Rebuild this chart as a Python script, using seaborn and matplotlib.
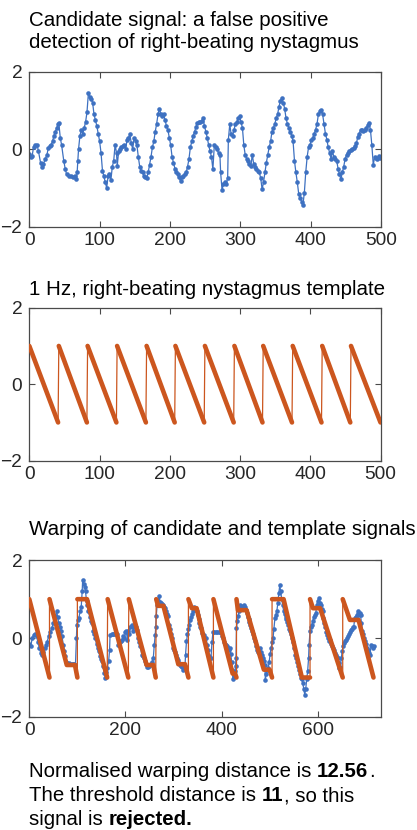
import numpy as np
import pandas as pd
import matplotlib
matplotlib.use("Agg")
import matplotlib.pyplot as plt
import seaborn as sns

# ---------------- data ----------------
cand_x = [0, 2, 4, 6, 8, 11, 13, 16, 18, 20, 23, 25, 27, 29, 31, 33, 35, 37, 39, 41, 42, 44, 46, 49, 51, 53,
          56, 59, 62, 65, 67, 68, 69, 70, 72, 74, 76, 78, 80, 82, 84, 86, 88, 90, 92, 94, 96, 98, 100, 102,
          104, 106, 108, 110, 112, 114, 116, 118, 120, 122, 124, 125, 127, 129, 131, 133, 135, 137, 139, 141,
          143, 145, 147, 149, 151, 153, 155, 157, 159, 161, 163, 165, 167, 169, 171, 173, 175, 177, 179, 181,
          183, 185, 187, 189, 191, 193, 195, 197, 199, 201, 203, 205, 207, 209, 211, 213, 215, 217, 219, 221,
          223, 225, 227, 229, 231, 233, 235, 237, 239, 241, 243, 245, 247, 249, 251, 253, 255, 257, 259, 261,
          263, 265, 267, 269, 271, 272, 274, 276, 278, 280, 282, 283, 285, 287, 289, 291, 293, 295, 297, 299,
          301, 303, 305, 307, 309, 311, 313, 315, 317, 319, 321, 323, 325, 327, 329, 331, 333, 335, 337, 339,
          341, 343, 345, 347, 349, 351, 353, 355, 357, 359, 361, 363, 365, 367, 369, 371, 373, 375, 377, 379,
          381, 383, 385, 387, 389, 391, 393, 395, 397, 399, 401, 403, 405, 407, 409, 411, 413, 415, 417, 419,
          421, 423, 425, 427, 429, 431, 433, 435, 437, 439, 441, 443, 445, 447, 449, 451, 453, 455, 457, 459,
          461, 463, 465, 467, 469, 471, 473, 475, 477, 479, 481, 483, 485, 487, 489, 491, 493, 495, 497, 499, 500]
cand_y = [-0.12, -0.2, -0.18, 0.05, 0.1, 0.12, -0.05, -0.35, -0.47, -0.38, -0.25, -0.15, 0.03, 0.08, 0.12,
          0.2, 0.35, 0.45, 0.55, 0.65, 0.67, 0.3, 0.1, -0.3, -0.5, -0.65,
          -0.7, -0.7, -0.72, -0.7, -0.78, -0.6, -0.3, 0.0, 0.35, 0.5, 0.4, 0.55, 0.7, 0.95, 1.45, 1.35, 1.3,
          1.2, 0.9, 0.75, 0.6, 0.4, 0.2, -0.1,
          -0.55, -0.7, -0.85, -1.0, -0.7, -0.65, -0.8, -0.45, -0.3, 0.12, -0.1, -0.44, -0.05, 0.0, 0.05, 0.08,
          0.12, 0.0, 0.25, 0.3,
          0.38, 0.15, 0.0, 0.3, 0.2, 0.1, -0.2, -0.45, -0.55, -0.6, -0.7, -0.72, -0.74, -0.6, -0.4, -0.2, 0.05,
          0.2, 0.45, 0.65,
          0.9, 1.05, 0.9, 0.85, 0.9, 0.75, 0.6, 0.5, 0.3, 0.1, -0.2, -0.35, -0.5, -0.6, -0.65, -0.72, -0.83,
          -0.72, -0.68, -0.65,
          -0.6, -0.45, -0.25, 0.05, 0.2, 0.35, 0.45, 0.58, 0.68, 0.7, 0.7, 0.72, 0.8, 0.6, 0.45, 0.3, 0.1,
          -0.05, -0.2, -0.52,
          0.1, 0.05, 0.0, -0.1, -0.15, -0.6, -1.05, -0.9, -0.85, -0.9, -0.74, 0.25, 0.64, 0.38, 0.35, 0.5,
          0.65, 0.7, 0.8, 0.85,
          0.7, 0.55, 0.1, -0.15, -0.25, -0.3, -0.38, -0.44, -0.14, -0.38, -0.45, -0.5, -0.55, -0.6, -0.75,
          -1.04, -0.85, -0.6, -0.35, -0.15,
          0.05, 0.2, 0.45, 0.55, 0.65, 0.8, 0.9, 1.1, 1.25, 1.33, 1.2, 1.05, 0.8, 0.65, 0.55, 0.45, 0.35, 0.2,
          -0.3, -0.6,
          -0.85, -1.15, -1.25, -1.35, -1.43, -1.13, -0.6, -0.2, 0.05, 0.1, 0.25, 0.28, 0.4, 0.5, 0.65, 0.9,
          0.98, 1.0, 0.9, 0.65,
          0.4, 0.25, 0.05, -0.1, -0.25, -0.05, -0.2, -0.25, -0.3, -0.5, -0.65, -0.78, -0.6, -0.45, -0.25,
          -0.15, -0.1, -0.05, -0.03, 0.0,
          0.02, 0.08, 0.15, 0.32, 0.4, 0.5, 0.5, 0.48, 0.5, 0.55, 0.62, 0.68, 0.5, 0.1, -0.4, -0.2, -0.22,
          -0.25, -0.18, -0.22, -0.2]

# 1 Hz sawtooth template: tooth tops (value 1) and bottoms (value -1)
tmpl_top_x = [0, 42, 83, 125, 167, 208, 250, 292, 333, 375, 417, 458]
tmpl_bottom_x = [41, 82, 124, 166, 207, 249, 291, 332, 374, 416, 457, 500]
tmpl_top_y = 1.0
tmpl_bottom_y = -1.0

# warped candidate
warp_cand_x = [0, 3, 6, 9, 12, 15, 18, 21, 24, 26, 29, 32, 35, 37, 40, 43, 47, 50, 54, 57, 59, 61, 64, 66,
               68, 71, 73, 75, 77, 79, 82, 85, 88, 91, 94, 96, 98, 99, 101, 103, 106, 108, 110, 111, 113,
               115, 117, 119, 121, 123, 126, 128, 130, 133, 135, 137, 140, 142, 144, 147, 149, 151, 153,
               156, 158, 160, 162, 165, 167, 168, 171, 174, 177, 180, 183, 185, 188, 190, 192, 195, 198,
               200, 202, 204, 206, 208, 210, 213, 216, 218, 220, 223, 225, 227, 229, 231, 234, 236, 238,
               240, 243, 245, 247, 250, 252, 254, 256, 258, 260, 262, 263, 264, 266, 268, 270, 272, 274,
               276, 278, 280, 282, 284, 286, 288, 290, 292, 294, 296, 299, 302, 304, 306, 308, 310, 312,
               314, 316, 318, 320, 322, 324, 325, 327, 329, 331, 333, 335, 337, 339, 341, 343, 345, 348,
               350, 352, 354, 356, 358, 360, 363, 366, 368, 370, 372, 374, 376, 378, 380, 382, 385, 388,
               391, 394, 397, 399, 401, 403, 405, 407, 409, 411, 413, 415, 417, 419, 421, 422, 424, 426,
               428, 429, 430, 431, 433, 435, 436, 438, 440, 442, 444, 446, 448, 450, 452, 454, 456, 458,
               460, 462, 464, 466, 468, 470, 472, 474, 476, 478, 480, 482, 484, 486, 488, 490, 491, 493,
               495, 497, 499, 501, 503, 505, 507, 509, 511, 513, 515, 517, 519, 521, 523, 525, 527, 529,
               531, 533, 535, 537, 539, 541, 543, 545, 547, 549, 551, 553, 555, 557, 559, 561, 563, 565,
               567, 569, 571, 573, 575, 577, 579, 581, 582, 584, 586, 588, 590, 592, 594, 596, 598, 600,
               602, 604, 606, 608, 610, 612, 614, 616, 618, 620, 622, 624, 626, 628, 630, 632, 634, 636,
               638, 640, 642, 644, 645, 647, 649, 651, 653, 655, 657, 659, 661, 663, 665, 667, 669, 671,
               673, 675, 677, 679, 681, 683, 685, 687, 689, 691, 693, 695, 697, 699, 701, 703, 705, 707,
               709, 711, 713, 715, 717]
warp_cand_y = [-0.15, -0.2, 0.0, 0.08, 0.11, 0.05, -0.1, -0.25, -0.38, -0.42, -0.35, -0.25, -0.18, -0.1,
               0.05, 0.15, 0.26, 0.4, 0.56, 0.69, 0.55, 0.4, 0.3, 0.2,
               0.05, -0.16, -0.33, -0.45, -0.6, -0.62, -0.64, -0.65, -0.65, -0.66, -0.65, -0.68, 0.0, 0.35,
               0.48, 0.52, 0.7, 0.8, 1.2, 1.5, 1.4,
               1.3, 1.2, 0.95, 0.85, 0.69, 0.55, 0.45, 0.39, 0.2, 0.1, 0.0, -0.15, -0.25, -0.33, -0.45, -0.52,
               -0.59, -0.7,
               -0.89, -1.0, -0.85, -0.76, -0.59, -0.3, 0.09, 0.1, 0.1, 0.1, 0.1, 0.1, -0.16, -0.1, -0.08,
               -0.05, 0.05, 0.0,
               0.15, 0.18, -0.05, 0.2, 0.1, 0.3, 0.35, 0.2, 0.3, 0.35, 0.3, 0.22, 0.0, -0.1, -0.2, -0.42,
               -0.45, -0.5,
               -0.59, -0.65, -0.72, -0.72, -0.7, -0.68, -0.66, -0.6, -0.5, -0.16, 0.09, 0.3, 0.56, 0.86,
               0.95, 1.07, 0.94, 0.9,
               0.88, 0.85, 0.8, 0.77, 0.7, 0.62, 0.56, 0.35, 0.25, 0.1, 0.0, -0.25, -0.3, -0.35, -0.42, -0.5,
               -0.55, -0.62,
               -0.67, -0.7, -0.72, -0.8, -0.76, -0.7, -0.42, -0.08, 0.1, 0.25, 0.35, 0.48, 0.55, 0.62, 0.69,
               0.8, 0.75, 0.7,
               0.6, 0.5, 0.4, 0.3, 0.26, 0.13, 0.08, 0.02, 0.0, -0.16, -0.3, -0.45, -0.5, -0.5, -0.1, 0.16,
               0.16, 0.16,
               0.16, 0.16, 0.16, 0.16, 0.05, 0.0, -0.1, -0.14, -0.16, -0.2, -0.25, -0.29, -0.25, -0.4, -0.6,
               -0.8, -1.05, -0.95,
               -0.84, -0.7, -0.5, 0.26, 0.45, 0.56, 0.7, 0.86, 0.8, 0.75, 0.82, 0.85, 0.8, 0.72, 0.65, 0.55,
               0.5, 0.42,
               0.35, 0.26, 0.18, 0.1, 0.0, -0.08, -0.2, -0.3, -0.35, -0.38, -0.25, -0.35, -0.42, -0.5, -0.58,
               -0.67, -1.06, -0.9,
               -0.8, -0.76, -0.6, -0.4, -0.25, -0.1, 0.0, 0.25, 0.52, 0.6, 0.7, 0.9, 1.15, 1.35, 1.2, 1.0,
               0.86, 0.7,
               0.62, 0.55, 0.5, 0.43, 0.35, 0.25, 0.18, 0.1, 0.0, -0.1, -0.25, -0.42, -0.5, -0.6, -0.7, -0.8,
               -0.9, -1.0,
               -1.05, -1.15, -1.3, -1.44, -1.3, -1.05, -0.84, -0.5, -0.16, 0.18, 0.3, 0.35, 0.45, 0.55, 0.6,
               0.65, 0.86, 0.95,
               1.02, 0.9, 0.86, 0.75, 0.69, 0.52, 0.4, 0.3, 0.15, 0.09, 0.0, -0.08, -0.04, -0.15, -0.2,
               -0.25, -0.3, -0.38,
               -0.42, -0.48, -0.5, -0.62, -0.75, -0.72, -0.5, -0.33, -0.2, -0.12, -0.06, -0.03, 0.0, 0.05,
               0.1, 0.15, 0.22, 0.25,
               0.28, 0.3, 0.52, 0.55, 0.6, 0.69, 0.6, 0.65, 0.6, 0.4, 0.18, 0.1, 0.0, -0.08, -0.15, -0.25,
               -0.3, -0.38,
               -0.42, -0.16, -0.2, -0.25, -0.2]

# warped template: corner points of the path
warp_tmpl_x = [0, 42, 42, 78, 95, 100, 100, 120, 162, 163, 206, 207, 244, 258, 263, 264, 268, 279, 310, 324,
               331, 331, 338, 348, 383, 383, 423, 428, 431, 431, 434, 452, 488, 500, 505, 505, 529, 567, 584,
               584, 590, 605, 652, 652, 667, 685, 716]
warp_tmpl_y = [1, -1, 1, -0.68, -0.68, -1, 1, 1, -1, 1, -1, 1, -0.68, -0.68, -1, 1, 0.83, 0.83, -0.66, -0.66,
               -1, 1, 0.77, 0.77, -1, 1, -0.9, -0.9, -1, 1, 0.72, 0.72, -0.8, -0.8, -1, 1, 1, -1, -1,
               1, 0.77, 0.77, -1, 1, 0.47, 0.47, -1]

x_ticks_12 = [0, 100, 200, 300, 400, 500]
x_ticks_3 = [0, 200, 400, 600]
y_ticks = [-2, 0, 2]

title1 = ["Candidate signal: a false positive", "detection of right-beating nystagmus"]
title2 = "1 Hz, right-beating nystagmus template"
title3 = "Warping of candidate and template signals"

# ---------------- style ----------------
BLUE = "#3E71C1"
ORANGE = "#CC561E"
AXC = "#4a4a4a"
sns.set_theme(style="white")
plt.rcParams["font.family"] = ["Liberation Sans", "DejaVu Sans"]

W, H = 417, 830
fig = plt.figure(figsize=(W / 100, H / 100), dpi=100)


def add_ax(l, r, t, b):
    return fig.add_axes([l / W, 1 - b / H, (r - l) / W, (b - t) / H])


def style_ax(ax, xticks, xlim):
    ax.set_xlim(*xlim)
    ax.set_ylim(-2, 2)
    ax.set_xticks(xticks)
    ax.set_yticks(y_ticks)
    ax.set_xlabel("")
    ax.set_ylabel("")
    for s in ax.spines.values():
        s.set_color(AXC)
        s.set_linewidth(0.9)
        s.set_visible(True)
    ax.tick_params(axis="both", which="both", direction="in", length=4, width=0.8,
                   color=AXC, top=True, right=True, bottom=True, left=True,
                   labelsize=13.8, labelcolor="#262626")
    ax.tick_params(axis="x", pad=4)
    ax.tick_params(axis="y", pad=5)
    ax.set_facecolor("white")


def draw_candidate(ax, xs, ys):
    df = pd.DataFrame({"x": xs, "y": ys})
    sns.lineplot(data=df, x="x", y="y", ax=ax, sort=False, estimator=None, color=BLUE,
                 linewidth=0.9, marker="o", markersize=3.3, markeredgewidth=0,
                 markerfacecolor=BLUE, zorder=2)


def draw_sawtooth(ax, xs, ys):
    df = pd.DataFrame({"x": xs, "y": ys})
    # thin full path (jumps included)
    sns.lineplot(data=df, x="x", y="y", ax=ax, sort=False, estimator=None,
                 color=ORANGE, linewidth=0.9, zorder=3)
    # thick ramps/flats, broken at the upward jumps
    df2 = df.copy()
    df2["piece"] = np.concatenate([[0], np.cumsum(np.diff(df["y"].values) > 0.5)])
    sns.lineplot(data=df2, x="x", y="y", units="piece", ax=ax, sort=False, estimator=None,
                 color=ORANGE, linewidth=3.3, zorder=4, solid_capstyle="round")


# ---- panel 1
ax1 = add_ax(29.3, 381, 71.7, 226.7)
draw_candidate(ax1, cand_x, cand_y)
style_ax(ax1, x_ticks_12, (0, 500))

# ---- panel 2
ax2 = add_ax(29.3, 380.5, 307.7, 460.7)
tx, ty = [], []
for a, b in zip(tmpl_top_x, tmpl_bottom_x):
    tx += [a, b]
    ty += [tmpl_top_y, tmpl_bottom_y]
draw_sawtooth(ax2, tx, ty)
style_ax(ax2, x_ticks_12, (0, 500))

# ---- panel 3
ax3 = add_ax(29.3, 380.7, 560, 716.7)
draw_candidate(ax3, warp_cand_x, warp_cand_y)
draw_sawtooth(ax3, warp_tmpl_x, warp_tmpl_y)
style_ax(ax3, x_ticks_3, (0, 731))

for ax in (ax1, ax2, ax3):
    leg = ax.get_legend()
    if leg:
        leg.remove()

# ---- titles
TX = 29 / W
fs_t = 14.8
fig.text(TX, 1 - 26 / H, title1[0], fontsize=fs_t, va="baseline", ha="left", color="black")
fig.text(TX, 1 - 48.5 / H, title1[1], fontsize=fs_t, va="baseline", ha="left", color="black")
fig.text(TX, 1 - 295 / H, title2, fontsize=fs_t, va="baseline", ha="left", color="black")
fig.text(TX, 1 - 535 / H, title3, fontsize=fs_t, va="baseline", ha="left", color="black")

# ---- bottom text with bold parts
renderer = fig.canvas.get_renderer()
lines = [
    [("Normalised warping distance is ", "normal"), ("12.56", "bold"), (".", "normal")],
    [("The threshold distance is ", "normal"), ("11", "bold"), (", so this", "normal")],
    [("signal is ", "normal"), ("rejected.", "bold")],
]
baselines = [776.5, 801, 824.5]
fs_b = 14.7
for parts, yb in zip(lines, baselines):
    xpix = 29.0
    for txt, wt in parts:
        t = fig.text(xpix / W, 1 - yb / H, txt, fontsize=fs_b, fontweight=wt,
                     va="baseline", ha="left", color="black")
        bb = t.get_window_extent(renderer=renderer)
        xpix += bb.width + 0.2

fig.savefig("out.png", dpi=100, facecolor="white")
